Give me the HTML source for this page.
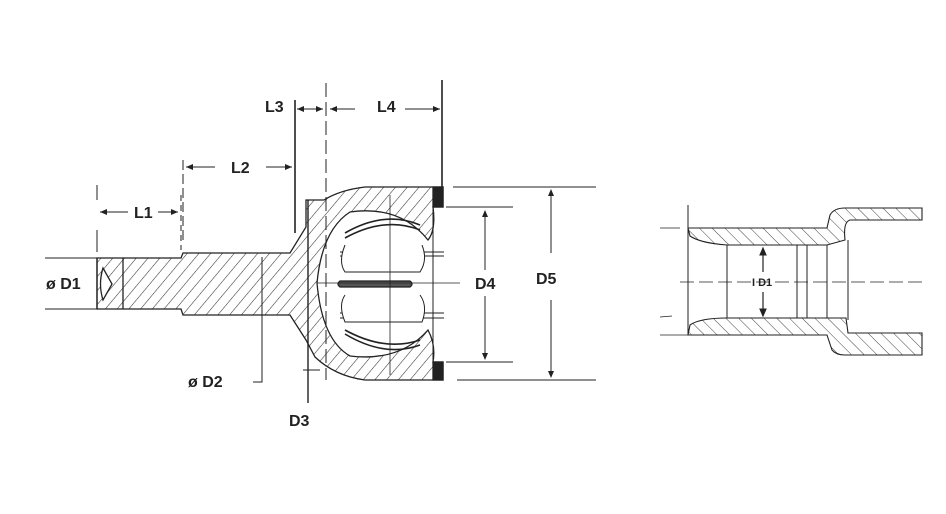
<!DOCTYPE html>
<html><head><meta charset="utf-8"><style>
html,body{margin:0;padding:0;background:#fff;width:946px;height:514px;overflow:hidden}
text{font-family:"Liberation Sans",sans-serif;font-weight:bold;fill:#222}
</style></head><body>
<svg width="946" height="514" viewBox="0 0 946 514" xmlns="http://www.w3.org/2000/svg">
<defs>
<pattern id="h1" width="9" height="9" patternUnits="userSpaceOnUse" patternTransform="rotate(40)">
<line x1="0" y1="0" x2="0" y2="9" stroke="#333" stroke-width="1.1"/></pattern>
<pattern id="h2" width="9" height="9" patternUnits="userSpaceOnUse" patternTransform="rotate(-45)">
<line x1="0" y1="0" x2="0" y2="9" stroke="#444" stroke-width="1"/></pattern>
</defs>
<g stroke="#222" fill="none" stroke-width="1.3">
<path d="M97,258 L181,258 L183,253 L290,253 L306,227 L306,200 L324,200 Q340,190 365,187 L443,187 L443,207 L433,207 Q436,230 428,240 Q400,205 350,212 Q322,230 317,283 Q322,340 350,356 Q400,362 428,330 Q436,345 433,362 L443,362 L443,380 L365,380 Q335,376 315,357 L306,340 L290,315 L183,315 L181,309 L97,309 Z" fill="url(#h1)"/>
<path d="M97,258 L97,309 M123,258 L123,309" />
<path d="M103,268 Q98,284 103,300 L112,284 Z" fill="#fff"/>
<rect x="433" y="187" width="10" height="20" fill="#222"/>
<rect x="433" y="362" width="10" height="18" fill="#222"/>
<path d="M433,207 L433,362" stroke-width="1"/>
<path d="M340,252 L444,252 M340,256 L444,256 M340,313 L444,313 M340,318 L444,318" stroke-width="1"/>
<path d="M340,281 L410,281 Q414,284 410,287 L340,287 Q336,284 340,281 Z" fill="#555"/>
<path d="M345,233 Q385,210 420,225 M345,238 Q385,216 420,230" stroke-width="1.6"/>
<path d="M345,330 Q385,352 420,340 M345,334 Q385,358 420,345" stroke-width="1.6"/>
<path d="M345,245 Q338,262 345,272 L420,272 Q428,260 422,245" fill="#fff" stroke-width="1"/>
<path d="M345,295 Q338,305 345,322 L422,322 Q428,306 420,295" fill="#fff" stroke-width="1"/>
<path d="M390,195 L390,375 M317,283 L460,283" stroke-width="0.8"/>
<g stroke-width="1">
<path d="M45,258 L97,258 M45,309 L97,309"/>
<path d="M97,185 L97,200 M97,230 L97,252"/>
<path d="M181,195 L181,250" stroke-dasharray="6,4"/>
<path d="M183,160 L183,240" stroke-dasharray="10,4"/>
<path d="M100,212 L128,212 M158,212 L178,212"/>
<path d="M186,167 L215,167 M266,167 L292,167"/>
<path d="M295,100 L295,233" stroke-width="1.6"/>
<path d="M326,83 L326,380" stroke-dasharray="14,5"/>
<path d="M297,109 L323,109 M330,109 L355,109 M405,109 L440,109"/>
<path d="M442,80 L442,187" stroke-width="1.6"/>
<path d="M446,207 L513,207 M446,362 L513,362"/>
<path d="M485,212 L485,270 M485,296 L485,358"/>
<path d="M453,187 L596,187 M457,380 L596,380"/>
<path d="M551,190 L551,253 M551,300 L551,377"/>
<path d="M262,257 L262,382 L253,382"/>
<path d="M308,200 L308,403" stroke-width="1.4"/>
<path d="M303,370 L320,370"/>
</g>
<g fill="#222" stroke="none">
<path d="M100,212 l7,-3 v6z M178,212 l-7,-3 v6z M186,167 l7,-3 v6z M292,167 l-7,-3 v6z M297,109 l7,-3 v6z M323,109 l-7,-3 v6z M330,109 l7,-3 v6z M440,109 l-7,-3 v6z M485,210 l-3,7 h6z M485,360 l-3,-7 h6z M551,189 l-3,7 h6z M551,378 l-3,-7 h6z"/>
</g>
</g>
<text x="134" y="218" font-size="16">L1</text>
<text x="231" y="173" font-size="16">L2</text>
<text x="265" y="112" font-size="16">L3</text>
<text x="377" y="112" font-size="16">L4</text>
<text x="46" y="289" font-size="16">ø D1</text>
<text x="188" y="387" font-size="16">ø D2</text>
<text x="289" y="426" font-size="16">D3</text>
<text x="475" y="289" font-size="16">D4</text>
<text x="536" y="284" font-size="16">D5</text>
<g stroke="#222" fill="none" stroke-width="1.1">
<path d="M688,228 L827,228 L830,215 Q834,208 845,208 L922,208 L922,220 L850,220 Q843,222 845,240 L827,245 L727,245 Q700,243 690,236 Z" fill="url(#h2)"/>
<path d="M688,335 L827,335 L832,350 Q836,355 845,355 L922,355 L922,333 L848,333 L846,318 L727,318 Q700,318 690,325 Z" fill="url(#h2)"/>
<path d="M688,205 L688,335 M727,245 L727,318 M797,245 L797,318 M807,245 L807,318 M827,245 L827,318 M848,240 L848,320" stroke-width="1"/>
<path d="M680,282 L922,282" stroke-dasharray="14,5" stroke-width="0.8"/>
<path d="M660,228 L680,228 M660,317 L672,316 M660,335 L688,335" stroke-width="0.8"/>
<path d="M763,250 L763,272 M763,292 L763,314" stroke-width="1.2"/>
<path d="M763,248 l-3,7 h6z M763,316 l-3,-7 h6z" fill="#222"/>
</g>
<text x="752" y="286" font-size="11" font-weight="normal">I D1</text>
</svg>
</body></html>
